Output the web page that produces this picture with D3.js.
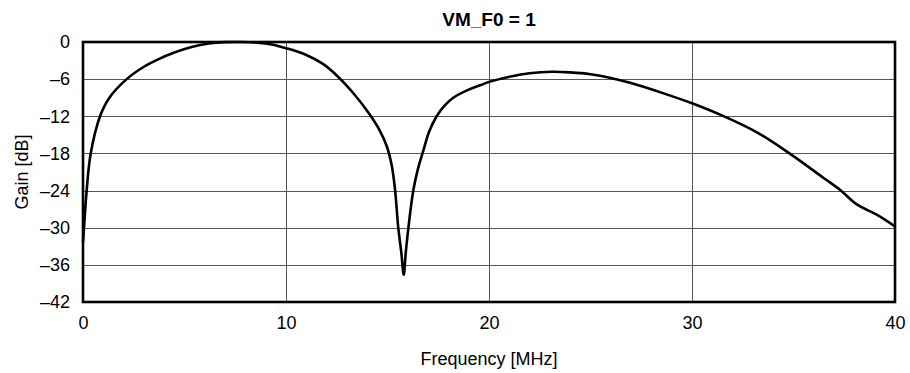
<!DOCTYPE html>
<html>
<head>
<meta charset="utf-8">
<script src="https://cdn.jsdelivr.net/npm/d3@7"></script>
<style>
  body { margin: 0; background: #fff; }
  text { font-family: "Liberation Sans", Arial, sans-serif; fill: #000; }
</style>
</head>
<body>
<svg width="910" height="373"></svg>
<script>
const width = 910;
const height = 373;

// 曲线数据
const freq = [0, 0.05, 0.18, 0.38, 0.84, 1.3, 2.15, 3.0, 3.7, 4.5, 5.35, 6.2, 7.0, 7.8, 8.6, 9.3, 10.0,
  11.0, 11.8, 12.5, 13.3, 14.1, 14.6, 14.96, 15.2, 15.37, 15.53, 15.68, 15.8, 15.9, 16.03, 16.27, 16.5,
  16.76, 17.05, 17.42, 17.8, 18.24, 19.0, 19.56, 20.05, 21.2, 22.0, 23.1, 24.0, 25.0, 26.0, 26.95,
  28.6, 30.0, 31.5, 33.2, 34.8, 36.5, 37.3, 38.1, 39.1, 40];
const gain = [-32.3, -30, -24, -18, -12, -9, -6, -4.0, -2.8, -1.7, -0.8, -0.25, -0.02, 0, -0.1, -0.4, -1.0,
  -2.1, -3.5, -5.4, -8.2, -11.6, -14.2, -16.8, -19.8, -23.8, -30, -34, -37.6, -34, -30, -24, -20.5,
  -17.6, -14.5, -12, -10.3, -9.0, -7.7, -7.0, -6.4, -5.5, -5.05, -4.8, -4.9, -5.2, -5.8, -6.6,
  -8.3, -9.9, -11.9, -14.6, -18.0, -22.0, -23.9, -26.2, -27.9, -29.8];

const xTicks = [0, 10, 20, 30, 40];
const yTicks = [0, -6, -12, -18, -24, -30, -36, -42];

const title = "VM_F0 = 1";
const xLabel = "Frequency [MHz]";
const yLabel = "Gain [dB]";

const margin = {left: 83, right: 15, top: 42, bottom: 71};

const x = d3.scaleLinear().domain([0, 40]).range([margin.left, width - margin.right]);
const y = d3.scaleLinear().domain([-42, 0]).range([height - margin.bottom, margin.top]);

const svg = d3.select("svg");

// 网格线
svg.append("g")
  .selectAll("line.h")
  .data(yTicks.slice(1, -1))
  .enter().append("line")
  .attr("x1", x(0)).attr("x2", x(40))
  .attr("y1", d => Math.round(y(d)) + 0.5)
  .attr("y2", d => Math.round(y(d)) + 0.5)
  .attr("stroke", "#555").attr("stroke-width", 1);

svg.append("g")
  .selectAll("line.v")
  .data(xTicks.slice(1, -1))
  .enter().append("line")
  .attr("y1", y(0)).attr("y2", y(-42))
  .attr("x1", d => Math.round(x(d)) + 0.5)
  .attr("x2", d => Math.round(x(d)) + 0.5)
  .attr("stroke", "#555").attr("stroke-width", 1);

// 刻度标签
const xAxis = d3.axisBottom(x).tickValues(xTicks).tickSize(0).tickPadding(14);
svg.append("g")
  .attr("transform", `translate(0,${y(-42)})`)
  .call(xAxis)
  .call(g => g.select(".domain").remove())
  .selectAll("text")
  .style("font-size", "18px");

const yAxis = d3.axisLeft(y).tickValues(yTicks).tickSize(0).tickPadding(13)
  .tickFormat(d => d < 0 ? "\u2013" + Math.abs(d) : String(d));
svg.append("g")
  .attr("transform", `translate(${x(0)},0)`)
  .call(yAxis)
  .call(g => g.select(".domain").remove())
  .selectAll("text")
  .style("font-size", "18px");

svg.selectAll(".tick text").attr("fill", "#000").attr("font-family", "Liberation Sans, Arial, sans-serif");

// 曲线
const data = freq.map((f, i) => ({f: f, g: gain[i]}));
const line = d3.line()
  .x(d => x(d.f))
  .y(d => y(d.g))
  .curve(d3.curveCatmullRom.alpha(0.5));

svg.append("path")
  .datum(data)
  .attr("d", line)
  .attr("fill", "none")
  .attr("stroke", "#000")
  .attr("stroke-width", 2.6)
  .attr("stroke-linejoin", "round");

// 边框
svg.append("rect")
  .attr("x", x(0)).attr("y", y(0))
  .attr("width", x(40) - x(0))
  .attr("height", y(-42) - y(0))
  .attr("fill", "none")
  .attr("stroke", "#000")
  .attr("stroke-width", 2.6);

// 标题和轴标签
svg.append("text")
  .attr("x", (x(0) + x(40)) / 2)
  .attr("y", 26)
  .attr("text-anchor", "middle")
  .style("font-size", "19px")
  .style("font-weight", "bold")
  .text(title);

svg.append("text")
  .attr("x", (x(0) + x(40)) / 2)
  .attr("y", 365)
  .attr("text-anchor", "middle")
  .style("font-size", "18px")
  .text(xLabel);

svg.append("text")
  .attr("transform", `translate(28,${(y(0) + y(-42)) / 2}) rotate(-90)`)
  .attr("text-anchor", "middle")
  .style("font-size", "18px")
  .text(yLabel);
</script>
</body>
</html>
